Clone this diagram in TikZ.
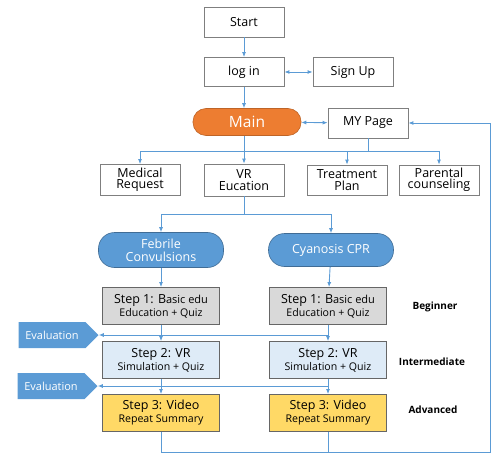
\documentclass[tikz,border=0pt]{standalone}
\usepackage{fontspec}
\setmainfont{Open Sans}
\usetikzlibrary{arrows.meta,shapes.symbols}
\definecolor{lineblue}{HTML}{5B9BD5}
\definecolor{boxgray}{HTML}{7F7F7F}
\definecolor{mainorange}{HTML}{ED7D31}
\definecolor{stepgray}{HTML}{D9D9D9}
\definecolor{steplight}{HTML}{DEEBF7}
\definecolor{stepyellow}{HTML}{FFD966}
\newcommand{\subline}[1]{{\fontsize{10.6}{12}\selectfont #1}}
\begin{document}
\begin{tikzpicture}[x=1pt,y=-1pt,
		box/.style={draw=boxgray,line width=0.8pt,fill=white,minimum width=80pt,minimum height=30pt,
			align=center,inner sep=1pt,font=\fontsize{12.5}{13.5}\selectfont},
		pill/.style={draw=lineblue!70!black,line width=0.6pt,fill=lineblue,text=white,rounded corners=16pt,
			minimum width=125pt,minimum height=34pt,align=center,font=\fontsize{12.5}{14}\selectfont},
		stepbox/.style={draw=boxgray!80!black,line width=0.8pt,minimum width=117pt,minimum height=37pt,
			align=center,inner sep=1pt,font=\fontsize{12.5}{13}\selectfont},
		evalnode/.style={signal,signal to=east,fill=lineblue,text=white,minimum width=80pt,
			minimum height=26pt,inner sep=1pt,font=\fontsize{11}{12}\selectfont},
		levelname/.style={font=\fontsize{10}{12}\selectfont\bfseries},
		line/.style={lineblue,line width=0.9pt},
		flow/.style={line,-{Latex[length=5pt,width=4pt]}},
		both/.style={line,{Latex[length=5pt,width=4pt]}-{Latex[length=5pt,width=4pt]}}]
	\useasboundingbox (0,0) rectangle (501,460);
	% top part
	\node [box] (start) at (244,22) {Start};
	\node [box,minimum height=29pt] (login) at (244,72) {log in};
	\node [box,minimum height=29pt] (signup) at (353,72) {Sign Up};
	\node [draw=mainorange!80!black,line width=0.6pt,fill=mainorange,text=white,rounded corners=13pt,
		minimum width=108pt,minimum height=27pt,font=\fontsize{15.5}{16}\selectfont] (main) at (247,122) {Main};
	\node [box] (mypage) at (368,123) {MY Page};
	% menu
	\node [box,minimum height=31pt] (medical) at (140,180) {Medical\\[-2pt]Request};
	\node [box,minimum height=32pt] (vredu) at (244,180) {VR\\[-2pt]Eucation};
	\node [box] (treat) at (347,180) {Treatment\\[-2pt]Plan};
	\node [box] (parent) at (439,180) {Parental\\[-2pt]counseling};
	% courses
	\node [pill,minimum height=35pt] (febrile) at (161,250) {Febrile\\[-1pt]Convulsions};
	\node [pill,minimum height=33pt] (cyanosis) at (331,250) {Cyanosis CPR};
	\node [stepbox,fill=stepgray] (stepA1) at (161,306) {Step 1: B{\fontsize{11}{12}\selectfont asic edu}\\\subline{Education + Quiz}};
	\node [stepbox,fill=stepgray] (stepB1) at (328,306) {Step 1: B{\fontsize{11}{12}\selectfont asic edu}\\\subline{Education + Quiz}};
	\node [stepbox,fill=steplight] (stepA2) at (161,360) {Step 2: VR\\\subline{Simulation + Quiz}};
	\node [stepbox,fill=steplight] (stepB2) at (328,360) {Step 2: VR\\\subline{Simulation + Quiz}};
	\node [stepbox,fill=stepyellow] (stepA3) at (161,413) {Step 3: Video\\\subline{Repeat Summary}};
	\node [stepbox,fill=stepyellow] (stepB3) at (328,413) {Step 3: Video\\\subline{Repeat Summary}};
	\node [evalnode] (evalA) at (52,335) {Evaluation};
	\node [evalnode] (evalB) at (51,386) {Evaluation};
	\node [levelname] (beginner) at (435,307) {Beginner};
	\node [levelname] (inter) at (432,362) {Intermediate};
	\node [levelname] (adv) at (433,410) {Advanced};
	\coordinate (busL) at (140,151);
	\coordinate (busR) at (439,151);
	\coordinate (split) at (244,214);
	\coordinate (loop) at (490,452);
	% connectors
	\draw [flow] (start) -- (login);
	\draw [both] (login) -- (signup);
	\draw [flow] (login) -- (login |- main.north);
	\draw [both] (main) -- (mypage);
	\draw [line] (mypage) |- (busR);
	\draw [line] (busL) -- (busR);
	\draw [flow] (busL) -- (medical);
	\draw [flow] (main.south -| vredu) -- (vredu);
	\draw [flow] (treat.north |- busL) -- (treat);
	\draw [flow] (busR) -- (parent);
	\draw [line] (vredu) -- (split);
	\draw [flow] (split) -| (febrile);
	\draw [flow] (split) -| (cyanosis);
	\draw [flow] (febrile) -- (stepA1);
	\draw [flow] (cyanosis) -- (stepB1);
	\draw [flow] (stepA1) -- (stepA2);
	\draw [flow] (stepB1) -- (stepB2);
	\draw [flow] (stepA2) -- (stepA3);
	\draw [flow] (stepB2) -- (stepB3);
	\draw [flow] (stepB1.south |- evalA.east) -- (evalA.east);
	\draw [flow] (stepB2.south |- evalB.east) -- (evalB.east);
	\draw [flow] (stepA3) |- (loop) |- (mypage.east);
	\draw [line] (stepB3) -- (stepB3.south |- loop);
\end{tikzpicture}
\end{document}
